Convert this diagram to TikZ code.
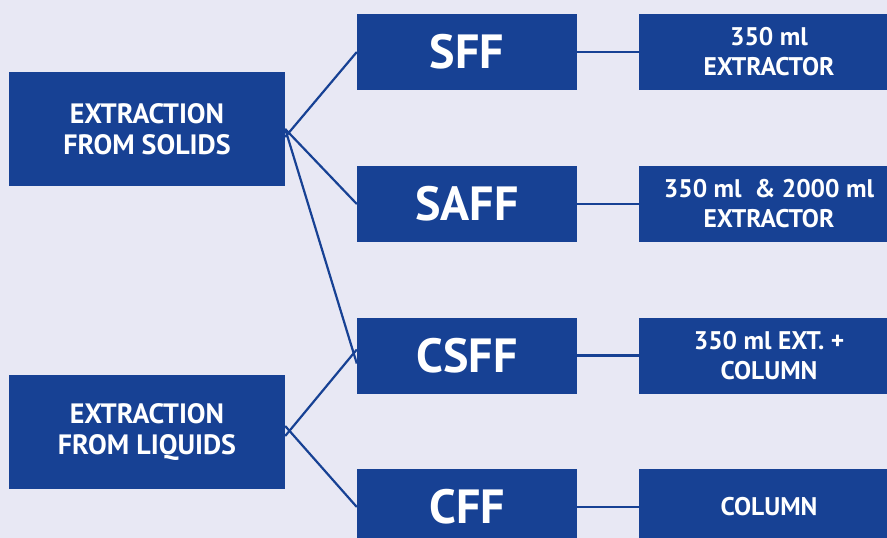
\documentclass[tikz,border=0pt]{standalone}
\usepackage{fontspec}
\setmainfont{PT Sans}
\definecolor{boxblue}{HTML}{174194}
\definecolor{bgcol}{HTML}{E8E8F4}
\begin{document}
\begin{tikzpicture}[x=1pt,y=-1pt,
  box/.style={fill=boxblue,text=white,inner sep=0pt,align=center,font=\bfseries},
  srcbox/.style={box,minimum width=276pt,minimum height=114pt,font=\bfseries\fontsize{28}{31}\selectfont},
  midbox/.style={box,minimum width=220pt,minimum height=76pt,font=\bfseries\fontsize{48}{50}\selectfont},
  resbox/.style={box,minimum width=260pt,minimum height=76pt,font=\bfseries\fontsize{25.5}{30}\selectfont},
  link/.style={draw=boxblue,line width=2.2pt}]
\useasboundingbox (0,0) rectangle (887,538);
\clip (0,0) rectangle (887,538);
\fill[bgcol] (0,0) rectangle (887,538);
\node[srcbox] (ls) at (147,129) {EXTRACTION\\FROM SOLIDS};
\node[srcbox] (ll) at (147,432) {EXTRACTION\\FROM LIQUIDS};
\node[midbox] (sff) at (467,52) {SFF};
\node[midbox] (saff) at (467,204) {SAFF};
\node[midbox] (csff) at (467,355.5) {CSFF};
\node[midbox] (cff) at (467,507) {CFF};
\node[resbox] (r1) at (769,52) {350 ml\\EXTRACTOR};
\node[resbox] (r2) at (769,204) {350 ml\ \ \& 2000 ml\\EXTRACTOR};
\node[resbox] (r3) at (769,355.5) {350 ml EXT. +\\COLUMN};
\node[resbox] (r4) at (769,507) {COLUMN};
\draw[link] ([yshift=-8pt]ls.east) -- (sff.west);
\draw[link] (ls.east) -- (saff.west);
\draw[link] (ls.east) -- ([yshift=-8pt]csff.west);
\draw[link] ([yshift=-4pt]ll.east) -- ([yshift=6pt]csff.west);
\draw[link] ([yshift=6pt]ll.east) -- (cff.west);
\draw[link] (sff.east) -- (r1.west);
\draw[link] (saff.east) -- (r2.west);
\draw[link] (csff.east) -- (r3.west);
\draw[link] (cff.east) -- (r4.west);
\end{tikzpicture}
\end{document}
